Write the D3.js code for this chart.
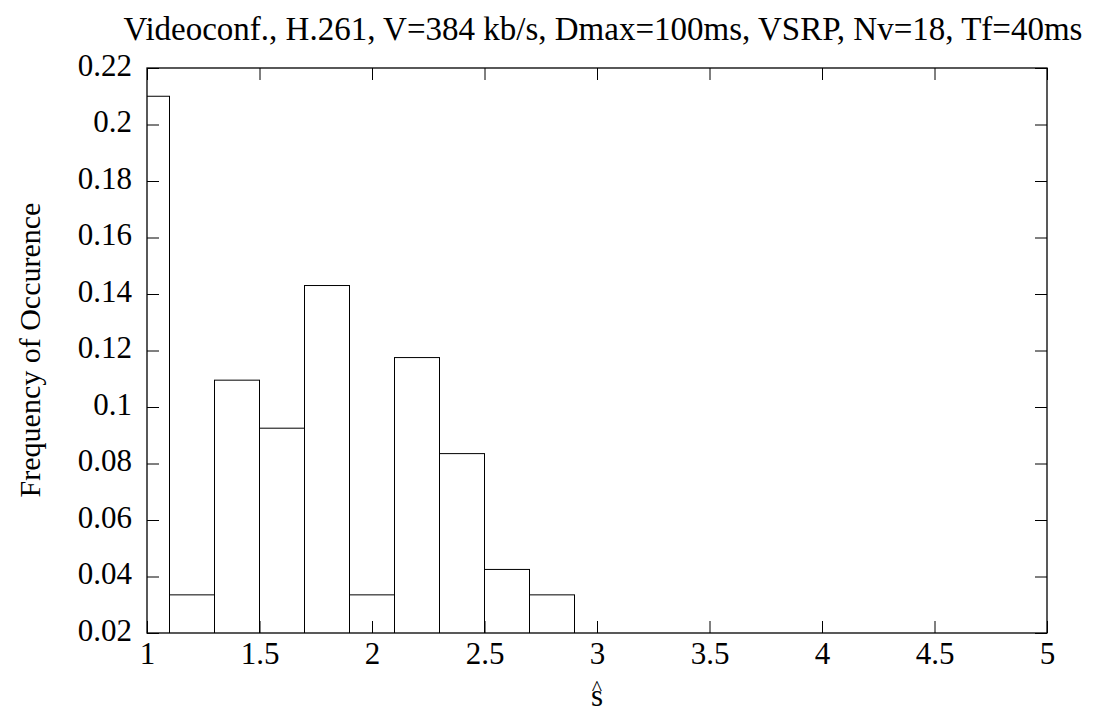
<!DOCTYPE html>
<html>
<head>
<meta charset="utf-8">
<script src="https://cdn.jsdelivr.net/npm/d3@7"></script>
<style>
  body { margin: 0; background: #fff; }
  text { font-family: "Liberation Serif", "Times New Roman", serif; fill: #000; }
</style>
</head>
<body>
<div id="chart"></div>
<script>
// histogram bins (center of each bin) and frequency
var binCenters = [1.0, 1.2, 1.4, 1.6, 1.8, 2.0, 2.2, 2.4, 2.6, 2.8];
var freqs = [0.21, 0.0335, 0.1095, 0.0925, 0.143, 0.0335, 0.1175, 0.0835, 0.0425, 0.0335];
var binWidth = 0.2;
var xTicks = [1, 1.5, 2, 2.5, 3, 3.5, 4, 4.5, 5];
var yTicks = [0.02, 0.04, 0.06, 0.08, 0.1, 0.12, 0.14, 0.16, 0.18, 0.2, 0.22];
var title = "Videoconf., H.261, V=384 kb/s, Dmax=100ms, VSRP, Nv=18, Tf=40ms";

var svgWidth = 1094, svgHeight = 713;
var margin = { top: 68, right: 47, bottom: 80, left: 147 };
var width = svgWidth - margin.left - margin.right;
var height = svgHeight - margin.top - margin.bottom;

var svg = d3.select("#chart").append("svg")
    .attr("width", svgWidth)
    .attr("height", svgHeight);

var g = svg.append("g")
    .attr("transform", `translate(${margin.left}, ${margin.top})`);

var x = d3.scaleLinear().domain([1, 5]).range([0, width]);
var y = d3.scaleLinear().domain([0.02, 0.22]).range([height, 0]);

g.append("clipPath").attr("id", "clip")
  .append("rect").attr("width", width).attr("height", height);

// bars
g.append("g").attr("clip-path", "url(#clip)")
  .selectAll("rect")
  .data(binCenters)
  .enter().append("rect")
    .attr("x", (d) => x(d - binWidth / 2))
    .attr("width", (d) => x(d + binWidth / 2) - x(d - binWidth / 2))
    .attr("y", (d, i) => y(freqs[i]))
    .attr("height", (d, i) => height - y(freqs[i]) + 5)
    .attr("fill", "none")
    .attr("stroke", "#000")
    .attr("stroke-width", 1);

// axes with inward ticks on all four sides
var tickLen = 12;
var xAxisBottom = g.append("g").attr("transform", `translate(0, ${height})`)
  .call(d3.axisBottom(x).tickValues(xTicks).tickSize(-tickLen).tickPadding(9).tickFormat(d3.format("")));
var xAxisTop = g.append("g")
  .call(d3.axisTop(x).tickValues(xTicks).tickSize(-tickLen).tickFormat(""));
var yAxisLeft = g.append("g")
  .call(d3.axisLeft(y).tickValues(yTicks).tickSize(-tickLen).tickPadding(15).tickFormat(d3.format("")));
var yAxisRight = g.append("g").attr("transform", `translate(${width}, 0)`)
  .call(d3.axisRight(y).tickValues(yTicks).tickSize(-tickLen).tickFormat(""));

[xAxisBottom, xAxisTop, yAxisLeft, yAxisRight].forEach(function(a) {
  a.select(".domain").remove();
  a.selectAll("line").attr("stroke", "#000").attr("stroke-width", 1);
  a.selectAll("text").attr("font-size", null).attr("font-family", null)
    .style("font-size", "31px").style("font-family", "Liberation Serif");
});
xAxisBottom.selectAll("text").attr("dy", "0.71em");
yAxisLeft.selectAll("text").attr("dy", "0.23em");

// frame
g.append("rect")
  .attr("width", width).attr("height", height)
  .attr("fill", "none").attr("stroke", "#000").attr("stroke-width", 1.3);

// title
svg.append("text")
  .attr("x", 603)
  .attr("y", 40)
  .attr("text-anchor", "middle")
  .style("font-size", "33px")
  .text(title);

// x label: s with a hat above it
var xLabel = svg.append("text").attr("text-anchor", "middle");
xLabel.append("tspan")
  .attr("x", x(3) + margin.left).attr("y", 706)
  .style("font-size", "31px")
  .text("s");
xLabel.append("tspan")
  .attr("x", x(3) + margin.left).attr("y", 695)
  .style("font-size", "22px")
  .text("^");

// y label
svg.append("text")
  .attr("transform", `translate(40, 350) rotate(-90)`)
  .attr("text-anchor", "middle")
  .style("font-size", "30px")
  .text("Frequency of Occurence");
</script>
</body>
</html>
